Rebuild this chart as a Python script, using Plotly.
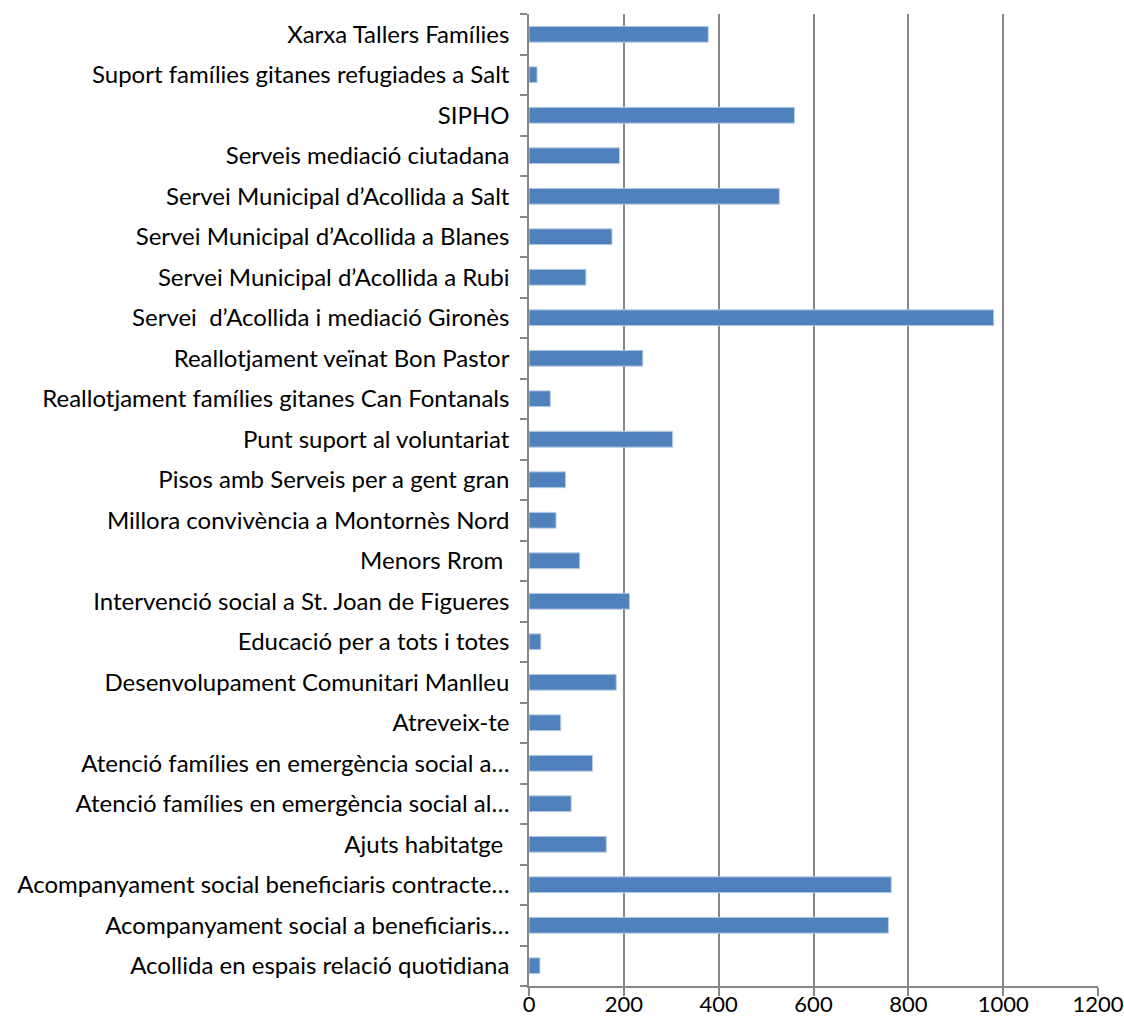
import plotly.graph_objects as go

categories = [
    "Acollida en espais relació quotidiana",
    "Acompanyament social a beneficiaris…",
    "Acompanyament social beneficiaris contracte…",
    "Ajuts habitatge ",
    "Atenció famílies en emergència social al…",
    "Atenció famílies en emergència social a…",
    "Atreveix-te",
    "Desenvolupament Comunitari Manlleu",
    "Educació per a tots i totes",
    "Intervenció social a St. Joan de Figueres",
    "Menors Rrom ",
    "Millora convivència a Montornès Nord",
    "Pisos amb Serveis per a gent gran",
    "Punt suport al voluntariat",
    "Reallotjament famílies gitanes Can Fontanals",
    "Reallotjament veïnat Bon Pastor",
    "Servei  d’Acollida i mediació Gironès",
    "Servei Municipal d’Acollida a Rubi",
    "Servei Municipal d’Acollida a Blanes",
    "Servei Municipal d’Acollida a Salt",
    "Serveis mediació ciutadana",
    "SIPHO",
    "Suport famílies gitanes refugiades a Salt",
    "Xarxa Tallers Famílies",
]
values = [23, 758, 764, 163, 89, 134, 67, 184, 25, 212, 107, 57, 77, 303,
          45, 240, 980, 120, 175, 528, 191, 560, 17, 378]
x_ticks = [0, 200, 400, 600, 800, 1000, 1200]

fig = go.Figure(go.Bar(
    x=values, y=categories, orientation="h",
    marker=dict(color="#4F81BD", line=dict(color="#B9CDE5", width=1)),
    width=0.39,
))

fig.update_layout(
    width=1124, height=1030,
    margin=dict(l=529, r=26, t=14, b=44),
    plot_bgcolor="white", paper_bgcolor="white",
    showlegend=False,
    font=dict(family="Lato, Carlito, Calibri, sans-serif", size=24, color="black"),
)
fig.update_xaxes(
    range=[0, 1200], tickvals=x_ticks, ticktext=[str(v) for v in x_ticks],
    showgrid=True, gridcolor="#878787", gridwidth=1.5,
    showline=True, linecolor="#878787", linewidth=1.5,
    ticks="outside", ticklen=8, tickcolor="#878787", tickwidth=1.5,
    zeroline=False, automargin=False, fixedrange=True,
    ticklabelstandoff=-10,
    tickfont=dict(size=22),
)
fig.update_yaxes(
    categoryorder="array", categoryarray=categories,
    showline=True, linecolor="#878787", linewidth=1.5,
    ticks="outside", ticklen=7, tickcolor="#878787", tickwidth=1.5,
    tickson="boundaries", showgrid=False, ticklabelstandoff=13,
    automargin=False, fixedrange=True,
    tickfont=dict(size=24),
)

fig.write_html(
    "out.html",
    config={"displayModeBar": False},
    post_script="document.body.style.margin='0';document.body.style.overflow='hidden';",
)
